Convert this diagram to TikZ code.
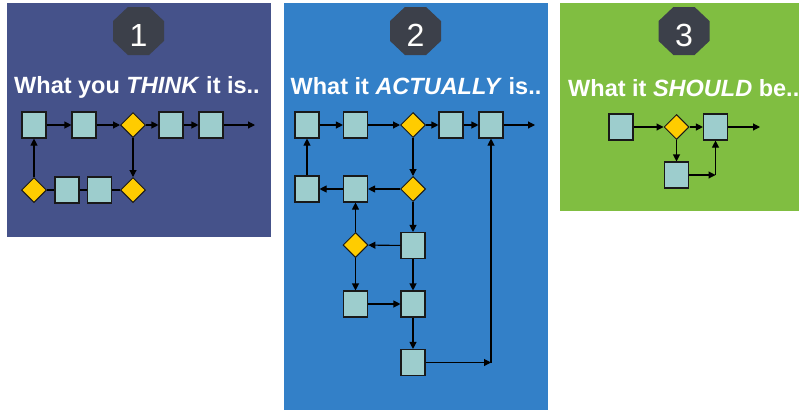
\documentclass[tikz,border=0pt]{standalone}
\usepackage{fontspec}
\setmainfont{Liberation Sans}
\usetikzlibrary{shapes.geometric,arrows.meta}

\definecolor{panelA}{RGB}{69,82,138}
\definecolor{panelB}{RGB}{51,128,200}
\definecolor{panelC}{RGB}{128,190,65}
\definecolor{octgray}{RGB}{60,64,74}
\definecolor{boxfill}{RGB}{157,205,205}
\definecolor{diafill}{RGB}{255,204,0}

\tikzset{
  stepbox/.style={draw=black!90, line width=1.1pt, fill=boxfill,
    minimum width=24pt, minimum height=26pt, inner sep=0pt},
  decision/.style={diamond, draw=black!90, line width=1pt, fill=diafill,
    minimum width=25pt, minimum height=25pt, inner sep=0pt},
  flow/.style={-{Triangle[length=7pt,width=7pt]}, line width=1.1pt, black},
  link/.style={line width=1.1pt, black},
  heading/.style={text=white, font=\fontsize{23.5}{28}\selectfont\bfseries, inner sep=0pt},
  badgenum/.style={font=\fontsize{32}{36}\selectfont, inner sep=0pt},
  octagon/.style={fill=octgray}
}

\begin{document}
\begin{tikzpicture}[x=1pt,y=-1pt]
\clip (0,0) rectangle (799,410);
\fill[white] (0,0) rectangle (799,410);

% three coloured panels
\fill[panelA] (7,3) rectangle (271,237);
\fill[panelB] (284,3) rectangle (548,410);
\fill[panelC] (560,3) rectangle (799,211);

% numbered octagon badges
\foreach \cx/\num/\nm in {138.5/1/bA, 415.5/2/bB, 684/3/bC}{
  \begin{scope}[shift={(\cx,31)}]
    \fill[octagon] (-10.6,-24) -- (10.6,-24) -- (25.5,-9.9) -- (25.5,9.9)
      -- (10.6,24) -- (-10.6,24) -- (-25.5,9.9) -- (-25.5,-9.9) -- cycle;
    \node[badgenum, text=black!70, anchor=base] (\nm s) at (0.8,15.8) {\num};
    \node[badgenum, text=white, anchor=base] (\nm) at (0,15) {\num};
  \end{scope}
}

% headings
\node[heading, anchor=base] (hA) at (137,93.5) {What you \textit{THINK} it is..};
\node[heading, anchor=base] (hB) at (416,94) {What it \textit{ACTUALLY} is..};
\node[heading, anchor=base west] (hC) at (568,96.5) {What it \textit{SHOULD} be..};

% ---- panel 1: the assumed process
\node[stepbox]  (a1) at (34,125) {};
\node[stepbox]  (a2) at (84,125) {};
\node[decision] (a3) at (133,125) {};
\node[stepbox]  (a4) at (171,125) {};
\node[stepbox]  (a5) at (211,125) {};
\coordinate     (a6) at (255,125);
\node[decision] (b1) at (34,190) {};
\node[stepbox]  (b2) at (67,190) {};
\node[stepbox]  (b3) at (99.5,190) {};
\node[decision] (b4) at (133,190) {};

\draw[flow] (a1) -- (a2);
\draw[flow] (a2) -- (a3);
\draw[flow] (a3) -- (a4);
\draw[flow] (a4) -- (a5);
\draw[flow] (a5) -- (a6);
\draw[flow] (a3) -- (b4);
\draw[flow] (b1) -- (a1);
\draw[link] (b1) -- (b2);
\draw[link] (b2) -- (b3);
\draw[link] (b3) -- (b4);

% ---- panel 2: the real process
\node[stepbox]  (c1) at (307,125) {};
\node[stepbox]  (c2) at (355.5,125) {};
\node[decision] (c3) at (413,125) {};
\node[stepbox]  (c4) at (451,125) {};
\node[stepbox]  (c5) at (491,125) {};
\coordinate     (c6) at (535,125);
\node[stepbox]  (d1) at (307,189) {};
\node[stepbox]  (d2) at (355.5,189) {};
\node[decision] (d3) at (413,189) {};
\node[decision] (e1) at (355.5,245) {};
\node[stepbox]  (e2) at (413,245.5) {};
\node[stepbox]  (f1) at (355.5,304) {};
\node[stepbox]  (f2) at (413,304) {};
\node[stepbox]  (g1) at (413,362.5) {};
\coordinate     (k)  at (491,362.5);

\draw[flow] (c1) -- (c2);
\draw[flow] (c2) -- (c3);
\draw[flow] (c3) -- (c4);
\draw[flow] (c4) -- (c5);
\draw[flow] (c5) -- (c6);
\draw[flow] (c3) -- (d3);
\draw[flow] (d3) -- (d2);
\draw[flow] (d2) -- (d1);
\draw[flow] (d1) -- (c1);
\draw[flow] (d3) -- (e2);
\draw[flow] (e2) -- (e1);
\draw[flow] (e1) -- (d2);
\draw[flow] (e1) -- (f1);
\draw[flow] (f1) -- (f2);
\draw[flow] (e2) -- (f2);
\draw[flow] (f2) -- (g1);
\draw[flow] (g1) -- (k);
\draw[flow] (k) -- (c5);

% ---- panel 3: the intended process
\node[stepbox]  (p1) at (621,127) {};
\node[decision] (p2) at (676.5,127) {};
\node[stepbox]  (p3) at (715.5,127) {};
\coordinate     (p5) at (760,127);
\node[stepbox]  (p4) at (676.5,175) {};
\coordinate     (q)  at (p3 |- p4);

\draw[flow] (p1) -- (p2);
\draw[flow] (p2) -- (p3);
\draw[flow] (p3) -- (p5);
\draw[flow] (p2) -- (p4);
\draw[flow] (p4) -- (q);
\draw[flow] (q) -- (p3);
\end{tikzpicture}
\end{document}
